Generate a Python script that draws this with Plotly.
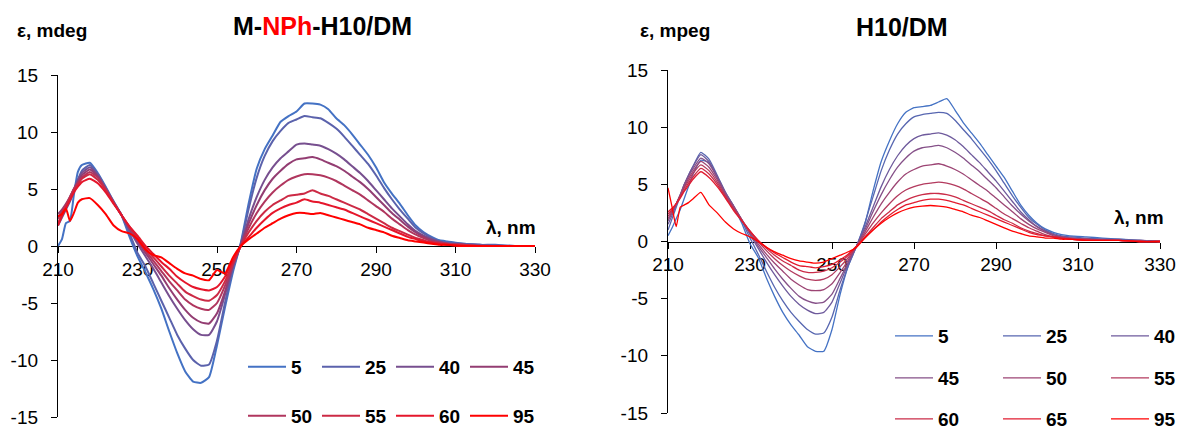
import plotly.graph_objects as go

# wavelength grid (nm)
wl = [210, 211, 212, 213, 214, 215, 216, 218, 220, 222,
      224, 226, 228, 230, 232, 234, 236, 238, 240, 242,
      244, 246, 248, 250, 252, 254, 256, 258, 260, 262,
      264, 266, 268, 270, 272, 274, 276, 278, 280, 282,
      284, 286, 288, 290, 292, 294, 296, 298, 300, 302,
      304, 306, 308, 312, 316, 320, 325, 330]

# ---- Left panel: M-NPh-H10/DM (temperatures) ----
left_names = ["5", "25", "40", "45", "50", "55", "60", "95"]
L5 = [0.0, 0.6, 2.0, 2.2, 4.5, 6.5, 7.1, 7.3, 6.4, 5.2,
      3.9, 2.7, 0.8, -0.9, -2.3, -3.8, -5.5, -7.5, -9.4, -11.0,
      -11.9, -12.0, -11.5, -8.7, -5.4, -2.3, 0.3, 3.8, 6.8, 8.5,
      9.7, 10.9, 11.4, 11.8, 12.5, 12.5, 12.4, 12.0, 11.2, 10.6,
      9.8, 8.9, 8.0, 6.9, 5.6, 4.6, 3.7, 2.7, 1.8, 1.2,
      0.8, 0.5, 0.4, 0.2, 0.1, 0.05, 0.0, 0.0]
L25 = [1.8, 2.5, 3.2, 3.9, 4.8, 5.8, 6.6, 7.1, 6.3, 5.1,
       3.9, 2.7, 1.1, -0.6, -1.8, -3.3, -4.8, -6.3, -7.8, -9.0,
       -10.0, -10.5, -10.4, -8.3, -5.0, -2.0, 0.2, 3.3, 6.0, 7.9,
       9.2, 10.1, 10.8, 11.1, 11.4, 11.3, 11.2, 10.8, 10.3, 9.6,
       8.8, 8.0, 7.2, 6.2, 5.1, 4.1, 3.2, 2.4, 1.6, 1.1,
       0.7, 0.4, 0.3, 0.2, 0.1, 0.1, 0.0, 0.0]
L40 = [2.5, 3.0, 3.5, 4.2, 5.0, 5.8, 6.4, 6.9, 6.2, 5.0,
       3.8, 2.7, 1.4, 0.2, -0.9, -2.0, -3.2, -4.4, -5.5, -6.5,
       -7.3, -7.8, -7.8, -6.6, -4.3, -1.8, 0.1, 2.4, 4.3, 5.8,
       6.9, 7.7, 8.3, 8.9, 9.0, 8.9, 8.8, 8.5, 8.1, 7.6,
       7.0, 6.4, 5.7, 4.9, 4.1, 3.3, 2.6, 1.9, 1.3, 0.9,
       0.6, 0.4, 0.2, 0.1, 0.1, 0.0, 0.0, 0.0]
L45 = [2.8, 3.2, 3.7, 4.3, 5.0, 5.6, 6.2, 6.7, 6.1, 5.0,
       3.8, 2.7, 1.5, 0.4, -0.6, -1.6, -2.6, -3.7, -4.7, -5.6,
       -6.3, -6.7, -6.8, -5.9, -4.0, -1.7, 0.1, 2.0, 3.6, 4.9,
       5.9, 6.6, 7.2, 7.6, 7.7, 7.8, 7.6, 7.3, 7.0, 6.6,
       6.1, 5.6, 5.0, 4.3, 3.6, 2.9, 2.3, 1.7, 1.2, 0.8,
       0.5, 0.3, 0.2, 0.1, 0.0, 0.0, 0.0, 0.0]
L50 = [2.4, 3.0, 3.6, 4.3, 5.0, 5.5, 6.0, 6.5, 6.0, 5.0,
       3.8, 2.7, 1.6, 0.6, -0.4, -1.3, -2.2, -3.1, -3.9, -4.7,
       -5.2, -5.5, -5.6, -5.0, -3.5, -1.6, 0.0, 1.6, 2.9, 3.9,
       4.7, 5.3, 5.8, 6.1, 6.3, 6.3, 6.2, 6.0, 5.7, 5.3,
       4.9, 4.5, 4.0, 3.5, 3.0, 2.4, 1.9, 1.4, 1.0, 0.7,
       0.4, 0.3, 0.2, 0.1, 0.0, 0.0, 0.0, 0.0]
L55 = [2.0, 2.8, 3.5, 4.2, 4.9, 5.4, 5.9, 6.3, 5.8, 4.9,
       3.8, 2.7, 1.7, 0.8, -0.2, -1.0, -1.8, -2.6, -3.3, -4.0,
       -4.4, -4.7, -4.8, -4.3, -3.1, -1.5, 0.0, 1.2, 2.2, 3.0,
       3.6, 4.0, 4.4, 4.5, 4.6, 4.9, 4.6, 4.4, 4.1, 3.8,
       3.5, 3.2, 2.8, 2.4, 2.0, 1.6, 1.3, 1.0, 0.7, 0.5,
       0.3, 0.2, 0.1, 0.1, 0.0, 0.0, 0.0, 0.0]
L60 = [1.8, 2.6, 3.3, 4.0, 4.7, 5.2, 5.6, 5.9, 5.5, 4.7,
       3.7, 2.7, 1.7, 0.9, 0.0, -0.7, -1.4, -2.0, -2.7, -3.2,
       -3.6, -3.8, -3.9, -3.6, -2.7, -1.3, 0.0, 0.8, 1.6, 2.3,
       2.9, 3.3, 3.6, 3.8, 4.1, 3.9, 3.8, 3.6, 3.4, 3.2,
       2.9, 2.6, 2.3, 2.0, 1.7, 1.4, 1.1, 0.8, 0.6, 0.4,
       0.3, 0.2, 0.1, 0.0, 0.0, 0.0, 0.0, 0.0]
L95 = [2.6, 2.8, 3.3, 2.2, 2.9, 3.8, 4.1, 4.2, 3.6, 2.8,
       1.8, 1.3, 1.1, 0.6, -0.3, -0.8, -1.0, -1.5, -2.0, -2.4,
       -2.6, -2.9, -3.0, -2.1, -2.4, -1.0, 0.0, 0.6, 1.1, 1.6,
       2.0, 2.4, 2.7, 2.9, 2.9, 2.8, 2.9, 2.7, 2.5, 2.3,
       2.1, 1.9, 1.6, 1.4, 1.2, 0.9, 0.7, 0.5, 0.4, 0.3,
       0.2, 0.1, 0.1, 0.0, 0.0, 0.0, 0.0, 0.0]
left_series = [L5, L25, L40, L45, L50, L55, L60, L95]

# ---- Right panel: H10/DM ----
right_names = ["5", "25", "40", "45", "50", "55", "60", "65", "95"]
R5 = [0.5, 1.2, 2.0, 2.8, 3.8, 4.8, 5.8, 7.1, 6.9, 5.6,
      4.2, 3.0, 1.6, -0.2, -1.4, -3.2, -4.8, -6.2, -7.3, -8.2,
      -9.2, -9.6, -9.6, -7.7, -4.6, -2.1, -0.4, 1.5, 4.4, 7.0,
      8.8, 10.3, 11.3, 11.7, 11.8, 11.9, 12.2, 12.5, 11.5, 10.4,
      9.5, 8.6, 7.6, 6.6, 5.6, 4.4, 3.2, 2.3, 1.6, 1.1,
      0.8, 0.6, 0.5, 0.4, 0.3, 0.2, 0.1, 0.0]
R25 = [1.0, 2.0, 3.0, 4.0, 5.0, 5.8, 6.5, 7.8, 7.2, 5.8,
       4.3, 3.1, 1.8, 0.3, -1.1, -2.6, -4.0, -5.2, -6.2, -7.0,
       -7.7, -8.1, -8.0, -6.6, -4.2, -2.1, -0.4, 1.6, 3.9, 6.2,
       8.0, 9.4, 10.3, 10.9, 11.1, 11.2, 11.3, 11.2, 10.6, 9.8,
       9.0, 8.1, 7.2, 6.2, 5.1, 4.0, 3.0, 2.1, 1.5, 1.0,
       0.7, 0.5, 0.4, 0.3, 0.2, 0.2, 0.1, 0.0]
R40 = [1.5, 2.3, 3.2, 4.1, 5.0, 5.8, 6.5, 7.6, 7.0, 5.7,
       4.3, 3.1, 1.9, 0.6, -0.6, -1.8, -2.9, -3.9, -4.8, -5.5,
       -6.0, -6.3, -6.2, -5.3, -3.6, -1.9, -0.4, 1.2, 3.0, 4.8,
       6.3, 7.5, 8.4, 9.0, 9.3, 9.4, 9.5, 9.3, 8.9, 8.3,
       7.6, 6.9, 6.1, 5.3, 4.4, 3.5, 2.6, 1.9, 1.3, 0.9,
       0.6, 0.4, 0.3, 0.2, 0.2, 0.1, 0.1, 0.0]
R45 = [1.8, 2.5, 3.3, 4.1, 5.0, 5.7, 6.3, 7.3, 6.8, 5.6,
       4.2, 3.1, 1.9, 0.7, -0.4, -1.4, -2.4, -3.3, -4.1, -4.8,
       -5.2, -5.4, -5.3, -4.6, -3.2, -1.8, -0.4, 1.0, 2.6, 4.1,
       5.4, 6.5, 7.3, 7.9, 8.2, 8.3, 8.4, 8.2, 7.8, 7.3,
       6.7, 6.1, 5.4, 4.7, 3.9, 3.1, 2.4, 1.8, 1.3, 0.9,
       0.6, 0.4, 0.3, 0.2, 0.1, 0.1, 0.1, 0.0]
R50 = [2.0, 2.6, 3.3, 4.0, 4.8, 5.5, 6.1, 7.0, 6.5, 5.4,
       4.1, 3.0, 1.9, 0.8, -0.2, -1.1, -1.9, -2.6, -3.3, -3.8,
       -4.2, -4.3, -4.2, -3.7, -2.7, -1.6, -0.4, 0.8, 2.1, 3.3,
       4.3, 5.2, 5.9, 6.3, 6.6, 6.7, 6.8, 6.6, 6.3, 5.9,
       5.4, 4.9, 4.4, 3.8, 3.2, 2.6, 2.0, 1.5, 1.1, 0.8,
       0.5, 0.4, 0.3, 0.2, 0.1, 0.1, 0.0, 0.0]
R55 = [2.2, 2.7, 3.3, 4.0, 4.7, 5.3, 5.9, 6.7, 6.2, 5.2,
       4.0, 2.9, 1.9, 0.9, 0.0, -0.8, -1.5, -2.1, -2.6, -3.0,
       -3.3, -3.4, -3.3, -2.9, -2.2, -1.4, -0.4, 0.6, 1.6, 2.5,
       3.3, 4.0, 4.5, 4.8, 5.0, 5.1, 5.2, 5.1, 4.9, 4.6,
       4.2, 3.8, 3.4, 2.9, 2.4, 2.0, 1.6, 1.2, 0.9, 0.6,
       0.4, 0.3, 0.2, 0.2, 0.1, 0.1, 0.0, 0.0]
R60 = [2.4, 2.8, 3.3, 3.9, 4.5, 5.1, 5.6, 6.4, 5.9, 5.0,
       3.9, 2.8, 1.8, 0.9, 0.1, -0.6, -1.2, -1.7, -2.1, -2.5,
       -2.7, -2.7, -2.6, -2.3, -1.8, -1.2, -0.4, 0.4, 1.2, 2.0,
       2.6, 3.2, 3.6, 3.9, 4.1, 4.2, 4.2, 4.1, 3.9, 3.6,
       3.3, 3.0, 2.7, 2.3, 1.9, 1.6, 1.2, 0.9, 0.7, 0.5,
       0.4, 0.3, 0.2, 0.1, 0.1, 0.1, 0.0, 0.0]
R65 = [2.6, 2.9, 3.3, 3.8, 4.4, 4.9, 5.4, 6.1, 5.6, 4.8,
       3.8, 2.7, 1.8, 0.9, 0.1, -0.5, -1.0, -1.4, -1.8, -2.1,
       -2.2, -2.3, -2.2, -2.0, -1.6, -1.1, -0.4, 0.3, 1.0, 1.7,
       2.3, 2.8, 3.2, 3.4, 3.6, 3.7, 3.7, 3.6, 3.4, 3.2,
       2.9, 2.6, 2.3, 2.0, 1.7, 1.4, 1.1, 0.8, 0.6, 0.5,
       0.4, 0.3, 0.2, 0.1, 0.1, 0.1, 0.0, 0.0]
R95 = [4.7, 3.0, 1.3, 3.0, 3.2, 3.4, 3.7, 4.3, 3.2, 2.5,
       1.7, 1.1, 0.7, 0.4, 0.0, -0.5, -0.9, -1.2, -1.5, -1.7,
       -1.8, -1.9, -1.8, -1.5, -1.2, -0.9, -0.5, 0.3, 1.0, 1.6,
       2.1, 2.5, 2.8, 3.0, 3.1, 3.15, 3.1, 3.0, 2.8, 2.6,
       2.3, 2.1, 1.8, 1.5, 1.2, 0.9, 0.7, 0.5, 0.4, 0.3,
       0.3, 0.2, 0.2, 0.1, 0.1, 0.1, 0.0, 0.0]
right_series = [R5, R25, R40, R45, R50, R55, R60, R65, R95]

x_ticks = [210, 230, 250, 270, 290, 310, 330]
y_ticks = [-15, -10, -5, 0, 5, 10, 15]
y_tick_text = ["-15", "-10", "-5", "0", "5", "10", "15"]

left_colors = ["#4472C4", "#5B62AC", "#774F8F", "#933D72", "#B0365E",
               "#CC2A45", "#E5162B", "#FF0000"]
right_colors = ["#4472C4", "#5766B0", "#6E5A9C", "#855088", "#9C4574",
                "#B33A5E", "#CA2C48", "#E11C30", "#FF0000"]

W, H = 1177, 430
FONT = "Liberation Sans, Arial, sans-serif"


def px_x(p):
    return p / W


def px_y(p):
    return 1 - p / H


fig = go.Figure()

# left legends: 2 rows of 4
for i, (nm, ys) in enumerate(zip(left_names, left_series)):
    lg = "legend" if i < 4 else "legend2"
    fig.add_trace(go.Scatter(
        x=wl, y=ys, name=nm, mode="lines",
        line=dict(color=left_colors[i], width=2, shape="spline", smoothing=0.5),
        xaxis="x", yaxis="y", legend=lg))

# right legends: 3 rows of 3
for i, (nm, ys) in enumerate(zip(right_names, right_series)):
    lg = ["legend3", "legend4", "legend5"][i // 3]
    fig.add_trace(go.Scatter(
        x=wl, y=ys, name=nm, mode="lines",
        line=dict(color=right_colors[i], width=1.3, shape="spline", smoothing=0.5),
        xaxis="x2", yaxis="y2", legend=lg))

ly0, ly1 = px_y(417), px_y(75)
ry0, ry1 = px_y(413), px_y(70)

common_x = dict(range=[210, 330], tickmode="array", tickvals=x_ticks,
                showline=True, linecolor="black", linewidth=1.3,
                ticks="outside", ticklen=6, tickwidth=1.3, tickcolor="black",
                showgrid=False, zeroline=False, layer="below traces",
                tickfont=dict(family=FONT, size=19, color="black"),
                anchor="free")
common_y = dict(range=[-15, 15], tickmode="array", tickvals=y_ticks,
                ticktext=y_tick_text, ticklabelstandoff=9,
                showline=True, linecolor="black", linewidth=1.3,
                ticks="outside", ticklen=6, tickwidth=1.3, tickcolor="black",
                showgrid=False, zeroline=False, layer="below traces",
                tickfont=dict(family=FONT, size=19, color="black"))

leg_font = dict(family=FONT, size=19, color="black", weight="bold")


def legend_box(x, y, ew):
    return dict(orientation="h", x=px_x(x), y=px_y(y), xanchor="left",
                yanchor="middle", font=leg_font, entrywidth=ew,
                entrywidthmode="pixels", bgcolor="rgba(0,0,0,0)",
                itemwidth=38, borderwidth=0, itemclick=False, tracegroupgap=0)


fig.update_layout(
    width=W, height=H,
    margin=dict(l=0, r=0, t=0, b=0, autoexpand=False),
    paper_bgcolor="white", plot_bgcolor="white",
    showlegend=True,
    xaxis=dict(domain=[px_x(58), px_x(535)], position=(ly0 + ly1) / 2, **common_x),
    yaxis=dict(domain=[ly0, ly1], anchor="x", **common_y),
    xaxis2=dict(domain=[px_x(668), px_x(1160)], position=(ry0 + ry1) / 2, **common_x),
    yaxis2=dict(domain=[ry0, ry1], anchor="x2", **common_y),
    legend=legend_box(243, 367, 21),
    legend2=legend_box(243, 416, 21),
    legend3=legend_box(890, 336, 55),
    legend4=legend_box(890, 378, 55),
    legend5=legend_box(890, 419, 55),
)

ann_font = dict(family=FONT, size=19, color="black", weight="bold")
title_font = dict(family=FONT, size=25, color="black", weight="bold")
annotations = [
    dict(text="ε, mdeg", x=px_x(15), y=px_y(30), xanchor="left", font=ann_font),
    dict(text="M-<span style='color:#FF0000'>NPh</span>-H10/DM", x=px_x(322), y=px_y(26),
         xanchor="center", font=title_font),
    dict(text="λ, nm", x=px_x(538), y=px_y(228), xanchor="right", font=ann_font),
    dict(text="ε, mpeg", x=px_x(638), y=px_y(31), xanchor="left", font=ann_font),
    dict(text="H10/DM", x=px_x(902), y=px_y(27), xanchor="center", font=title_font),
    dict(text="λ, nm", x=px_x(1166), y=px_y(217), xanchor="right", font=ann_font),
]
for a in annotations:
    a.update(xref="paper", yref="paper", yanchor="middle", showarrow=False)
fig.update_layout(annotations=annotations)

fig.write_html("out.html")
